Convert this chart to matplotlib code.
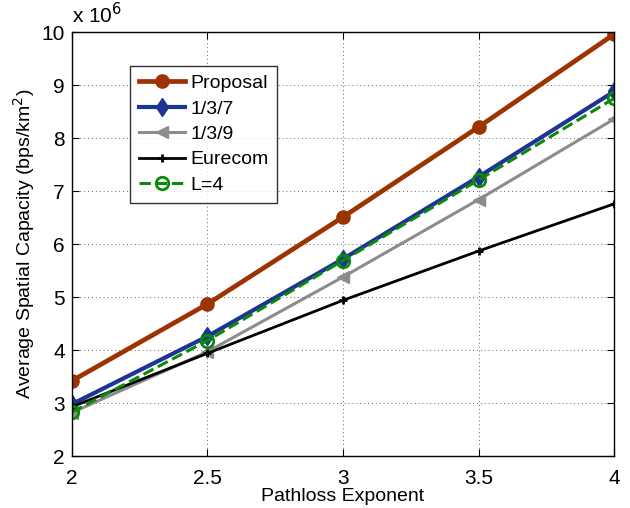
import numpy as np
import matplotlib
matplotlib.use("Agg")
import matplotlib.pyplot as plt

plt.rcParams['font.family'] = ['Liberation Sans', 'DejaVu Sans']

# capacity in units of 1e6 bps/km^2
exponent = [2, 2.5, 3, 3.5, 4]
proposal = [3.42, 4.87, 6.51, 8.21, 9.96]
reuse_137 = [2.98, 4.26, 5.72, 7.27, 8.88]
reuse_139 = [2.82, 3.97, 5.38, 6.84, 8.36]
eurecom = [2.93, 3.94, 4.94, 5.87, 6.76]
l4 = [2.83, 4.18, 5.69, 7.21, 8.75]

fig = plt.figure(figsize=(6.3, 5.08), dpi=100)
ax = fig.add_axes([0.114, 0.102, 0.861, 0.835])

ax.plot(exponent, proposal, '-o', color='#9c3300', lw=3.4, ms=9.5,
        label='Proposal')
ax.plot(exponent, reuse_137, '-d', color='#1e3494', lw=3, ms=9.5,
        label='1/3/7')
ax.plot(exponent, reuse_139, '-<', color='#8c8c8c', lw=2.2, ms=8.5,
        label='1/3/9')
ax.plot(exponent, eurecom, '-+', color='black', lw=2, ms=6, mew=2,
        label='Eurecom')
ax.plot(exponent, l4, '--o', color='#0a8a0a', lw=2.2, ms=9, mew=2,
        mfc='none', label='L=4')

ax.set_xlim(2, 4)
ax.set_ylim(2, 10)
ax.set_xticks([2, 2.5, 3, 3.5, 4])
ax.set_xticklabels(['2', '2.5', '3', '3.5', '4'])
ax.set_yticks(range(2, 11))
ax.tick_params(direction='in', top=True, right=True, labelsize=15,
               length=5, width=0.8)
ax.tick_params(axis='x', pad=9)
ax.tick_params(axis='y', pad=5)
ax.grid(True, linestyle=(0, (1, 3)), color='#666666', lw=0.7)
for s in ax.spines.values():
    s.set_linewidth(1.0)

ax.set_xlabel('Pathloss Exponent', fontsize=14, labelpad=0)
ax.set_ylabel('Average Spatial Capacity (bps/km$^2$)', fontsize=14, labelpad=3)
ax.text(0.0, 1.012, r'x 10$^6$', transform=ax.transAxes, fontsize=15,
        ha='left', va='bottom')

leg = ax.legend(loc='upper left', bbox_to_anchor=(0.107, 0.92), fontsize=14,
                frameon=True, fancybox=False, edgecolor='black',
                handlelength=2.4, borderpad=0.45, labelspacing=0.4,
                handletextpad=0.25, borderaxespad=0)
leg.get_frame().set_linewidth(1.0)

fig.savefig('out.png', dpi=100)
